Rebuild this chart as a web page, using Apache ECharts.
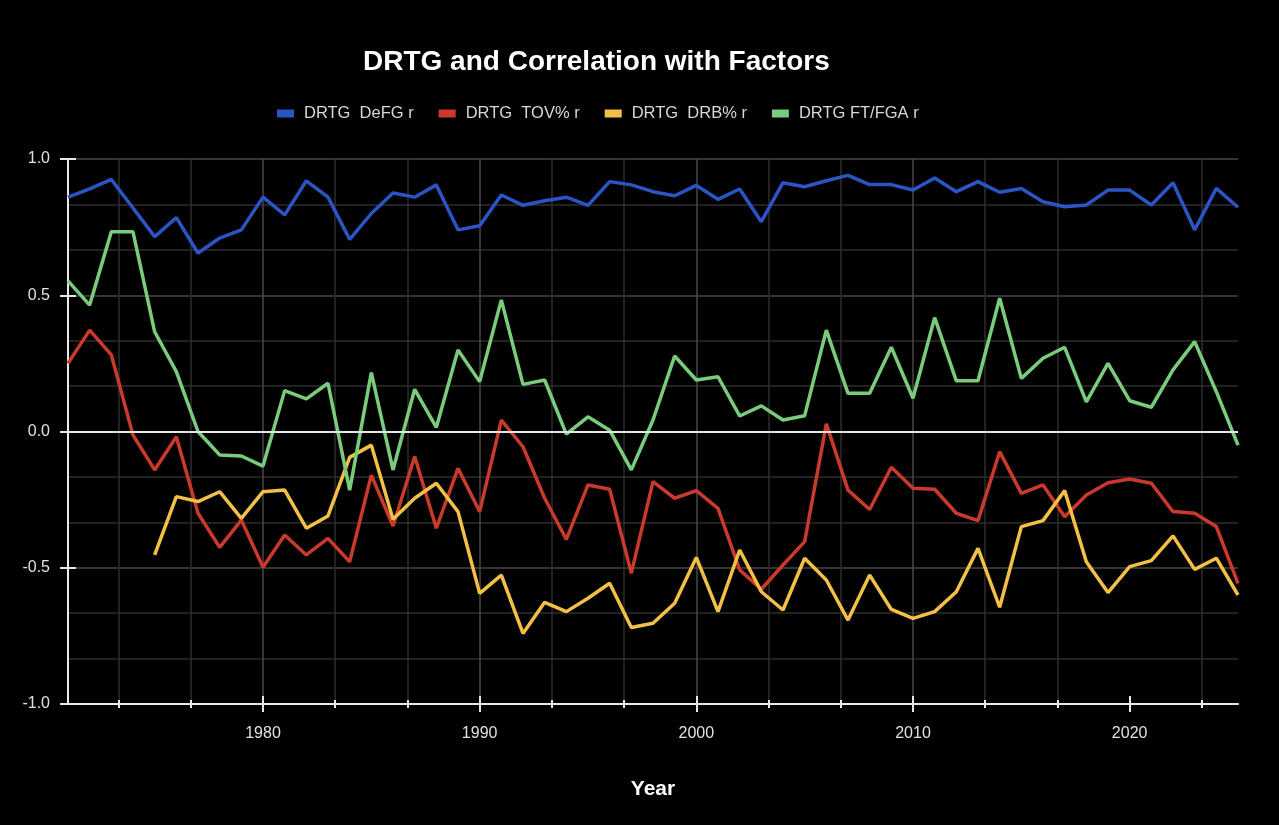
<!DOCTYPE html>
<html>
<head>
<meta charset="utf-8">
<title>DRTG and Correlation with Factors</title>
<script src="https://cdn.jsdelivr.net/npm/echarts@6/dist/echarts.min.js"></script>
<style>
    html, body { margin: 0; padding: 0; background: #000; }
    #chart { width: 1279px; height: 825px; }
</style>
</head>
<body>
<div id="chart"></div>
<script>
var years = [1971, 1972, 1973, 1974, 1975, 1976, 1977, 1978, 1979, 1980,
    1981, 1982, 1983, 1984, 1985, 1986, 1987, 1988, 1989, 1990,
    1991, 1992, 1993, 1994, 1995, 1996, 1997, 1998, 1999, 2000,
    2001, 2002, 2003, 2004, 2005, 2006, 2007, 2008, 2009, 2010,
    2011, 2012, 2013, 2014, 2015, 2016, 2017, 2018, 2019, 2020,
    2021, 2022, 2023, 2024, 2025];

var yearTicks = [1980, 1990, 2000, 2010, 2020];

var defg = [0.86, 0.89, 0.925, 0.82, 0.715, 0.785, 0.655, 0.71, 0.74, 0.86,
    0.795, 0.92, 0.86, 0.705, 0.80, 0.875, 0.86, 0.905, 0.74, 0.755,
    0.868, 0.83, 0.847, 0.86, 0.83, 0.917, 0.905, 0.88, 0.865, 0.903,
    0.852, 0.89, 0.77, 0.913, 0.898, 0.92, 0.94, 0.906, 0.906, 0.886,
    0.93, 0.88, 0.917, 0.878, 0.892, 0.843, 0.825, 0.831, 0.886, 0.886,
    0.831, 0.913, 0.74, 0.892, 0.823];

var tov = [0.25, 0.372, 0.281, -0.013, -0.141, -0.019, -0.30, -0.425, -0.325, -0.498,
    -0.38, -0.453, -0.392, -0.478, -0.16, -0.347, -0.092, -0.355, -0.135, -0.294,
    0.042, -0.056, -0.245, -0.396, -0.196, -0.212, -0.52, -0.184, -0.245, -0.217,
    -0.282, -0.508, -0.579, -0.49, -0.404, 0.028, -0.215, -0.286, -0.131, -0.208,
    -0.212, -0.30, -0.327, -0.074, -0.227, -0.196, -0.313, -0.233, -0.188, -0.174,
    -0.19, -0.294, -0.30, -0.349, -0.557];

// no DRB% value before 1975
var drb = [null, null, null, null, -0.453, -0.239, -0.257, -0.221, -0.319, -0.221,
    -0.215, -0.355, -0.31, -0.095, -0.05, -0.322, -0.245, -0.19, -0.294, -0.594,
    -0.527, -0.741, -0.627, -0.661, -0.612, -0.557, -0.719, -0.704, -0.63, -0.462,
    -0.661, -0.435, -0.588, -0.655, -0.465, -0.545, -0.692, -0.527, -0.653, -0.686,
    -0.661, -0.588, -0.429, -0.645, -0.349, -0.327, -0.217, -0.478, -0.591, -0.496,
    -0.474, -0.383, -0.506, -0.465, -0.60];

var ftfga = [0.553, 0.464, 0.733, 0.733, 0.366, 0.22, 0.0, -0.086, -0.09, -0.127,
    0.15, 0.12, 0.177, -0.215, 0.216, -0.141, 0.155, 0.015, 0.299, 0.183,
    0.483, 0.173, 0.189, -0.01, 0.054, 0.005, -0.141, 0.042, 0.277, 0.189,
    0.201, 0.057, 0.094, 0.042, 0.058, 0.372, 0.14, 0.14, 0.309, 0.122,
    0.418, 0.186, 0.186, 0.489, 0.195, 0.269, 0.309, 0.109, 0.25, 0.113,
    0.089, 0.226, 0.33, 0.146, -0.05];

var names = ['DRTG  DeFG r', 'DRTG  TOV% r', 'DRTG  DRB% r', 'DRTG FT/FGA r'];
var colors = ['#2b55c4', '#c93a2c', '#f3c047', '#7acb7c'];

var font = 'Liberation Sans, Arial, Helvetica, sans-serif';

function pairs(values) {
    var out = [];
    for (var i = 0; i < years.length; i++) {
        out.push([years[i], values[i]]);
    }
    return out;
}

function makeSeries(idx, values) {
    return {
        name: names[idx],
        type: 'line',
        data: pairs(values),
        showSymbol: false,
        symbol: 'none',
        connectNulls: false,
        lineStyle: { width: 3.5, color: colors[idx] },
        itemStyle: { color: colors[idx] }
    };
}

var series = [
    makeSeries(0, defg),
    makeSeries(1, tov),
    makeSeries(2, drb),
    makeSeries(3, ftfga)
];

// white zero line, kept under the other lines
series[0].markLine = {
    silent: true,
    symbol: 'none',
    label: { show: false },
    lineStyle: { color: '#e6e6e6', width: 2, type: 'solid' },
    data: [{ yAxis: 0 }]
};

var axisWhite = '#e8e8e8';

var chart = echarts.init(document.getElementById('chart'));

var option = {
    backgroundColor: '#000',
    animation: false,
    color: colors,
    textStyle: { fontFamily: font },

    title: {
        text: 'DRTG and Correlation with Factors',
        left: 358,
        top: 43,
        textStyle: { color: '#fff', fontSize: 28, fontWeight: 'bold', fontFamily: font }
    },

    legend: {
        left: 272,
        top: 100,
        icon: 'rect',
        itemWidth: 17,
        itemHeight: 8,
        itemGap: 25,
        textStyle: { color: '#d8d8d8', fontSize: 16.5, fontFamily: font, padding: [0, 0, 0, 5] },
        data: names
    },

    grid: {
        left: 68,
        right: 41,
        top: 159,
        bottom: 121,
        outerBoundsMode: 'none'
    },

    xAxis: [{
        type: 'value',
        min: 1971,
        max: 2025,
        name: 'Year',
        nameLocation: 'middle',
        nameGap: 75,
        nameTextStyle: { color: '#fff', fontSize: 21, fontWeight: 'bold', fontFamily: font },
        axisLine: { show: true, onZero: false, lineStyle: { color: axisWhite, width: 2 } },
        axisTick: { show: true, length: 8, customValues: yearTicks, lineStyle: { color: axisWhite, width: 2 } },
        minorTick: { show: true, splitNumber: 3, length: 4, lineStyle: { color: axisWhite, width: 2 } },
        axisLabel: {
            color: '#e0e0e0',
            fontSize: 16,
            margin: 22,
            customValues: yearTicks,
            formatter: function (v) { return String(v); }
        },
        splitLine: { show: true, showMaxLine: false, lineStyle: { color: '#474747', width: 1.5 } },
        minorSplitLine: { show: true, lineStyle: { color: '#2e2e2e', width: 1.5 } }
    }, {
        // same axis again with ticks pointing inward, so the ticks cross the line
        type: 'value',
        min: 1971,
        max: 2025,
        position: 'bottom',
        axisLine: { show: false, onZero: false },
        axisTick: { show: true, inside: true, length: 8, customValues: yearTicks, lineStyle: { color: axisWhite, width: 2 } },
        minorTick: { show: true, splitNumber: 3, length: 4, lineStyle: { color: axisWhite, width: 2 } },
        axisLabel: { show: false },
        splitLine: { show: false }
    }],

    yAxis: [{
        type: 'value',
        min: -1,
        max: 1,
        interval: 0.5,
        axisLine: { show: true, onZero: false, lineStyle: { color: axisWhite, width: 2 } },
        axisTick: { show: true, length: 8, lineStyle: { color: axisWhite, width: 2 } },
        axisLabel: {
            color: '#e0e0e0',
            fontSize: 16,
            margin: 18,
            formatter: function (v) { return v.toFixed(1); }
        },
        splitLine: { show: true, lineStyle: { color: '#474747', width: 1.5 } },
        minorTick: { show: false, splitNumber: 3 },
        minorSplitLine: { show: true, lineStyle: { color: '#2e2e2e', width: 1.5 } }
    }, {
        type: 'value',
        min: -1,
        max: 1,
        interval: 0.5,
        position: 'left',
        axisLine: { show: false, onZero: false },
        axisTick: { show: true, inside: true, length: 8, lineStyle: { color: axisWhite, width: 2 } },
        axisLabel: { show: false },
        splitLine: { show: false }
    }],

    series: series
};

chart.setOption(option);
</script>
</body>
</html>
